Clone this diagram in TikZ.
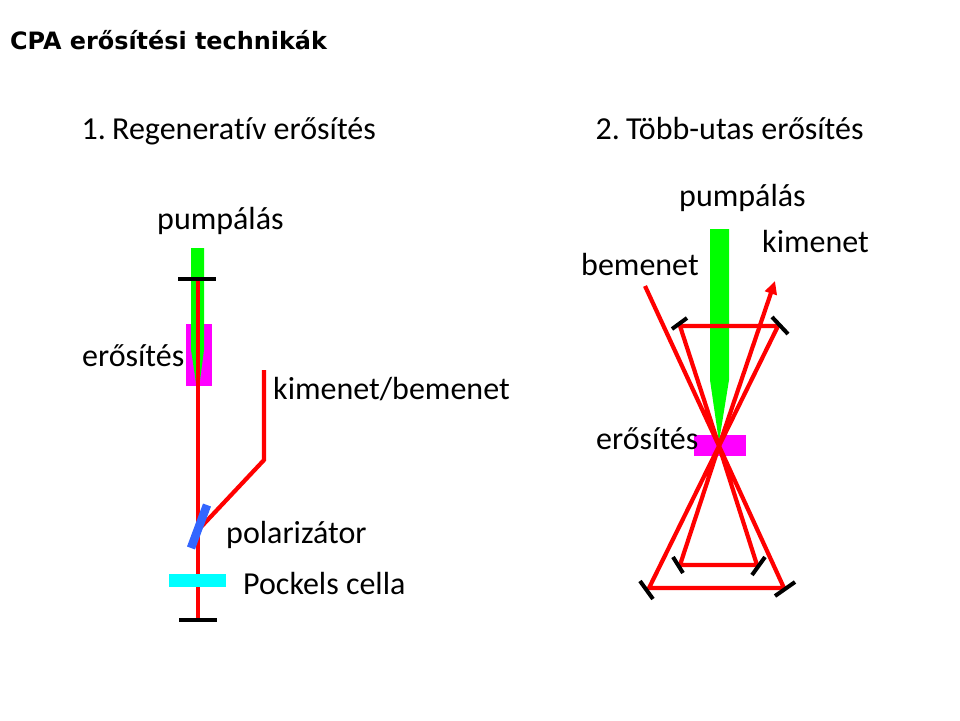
\documentclass[tikz,border=0pt]{standalone}
\usepackage{fontspec}
\setmainfont[Ligatures=NoCommon,RawFeature={-liga;-clig;-dlig}]{Carlito}
\newfontfamily\titlefont{DejaVu Sans}
\usetikzlibrary{arrows.meta}
\definecolor{puregain}{RGB}{255,0,255}
\definecolor{purecell}{RGB}{0,255,255}
\definecolor{purepump}{RGB}{0,255,0}
\definecolor{purebeam}{RGB}{255,0,0}
\definecolor{polblue}{RGB}{51,102,255}
\tikzset{
  lbl/.style={anchor=base west,inner sep=0pt,font=\fontsize{32}{36}\selectfont},
  ttl/.style={anchor=base west,inner sep=0pt,font=\titlefont\bfseries\fontsize{23.9}{28}\selectfont},
  beam/.style={draw=purebeam,line width=4.2pt,line join=miter},
  thin beam/.style={draw=purebeam,line width=4.2pt,line join=round},
  mirror/.style={draw=black,line width=4pt},
  pump/.style={fill=purepump,draw=none},
  gain/.style={fill=puregain,draw=none},
}
\begin{document}
\begin{tikzpicture}[x=1pt,y=-1pt]
\useasboundingbox (0,0) rectangle (960,720);
% coordinates, left
\coordinate (LT) at (198,281);
\coordinate (LB) at (198,620);
\coordinate (OA) at (264,370);
\coordinate (OB) at (264,460);
\coordinate (OC) at (201,527);
\coordinate (M1a) at (178,279);
\coordinate (M1b) at (216,279);
\coordinate (M2a) at (179,620);
\coordinate (M2b) at (217,620);
\coordinate (Pa) at (207,505);
\coordinate (Pb) at (191,548);
% left gain & pump
\fill[gain] (186,324) rectangle (212,386);
\fill[pump] (191,248) -- (204,248) -- (204,350) -- (198,396) -- (191,350) -- cycle;
\draw[beam] (LT) -- (LB);
\draw[beam] (OA) -- (OB) -- (OC);
\draw[mirror] (M1a) -- (M1b);
\draw[mirror] (M2a) -- (M2b);
\draw[draw=polblue,line width=8.5pt] (Pa) -- (Pb);
\fill[purecell] (169,574) rectangle (226,587);
% right
\coordinate (X) at (719,446);
\coordinate (In) at (645,286);
\coordinate (TL) at (680,326);
\coordinate (TR) at (778,326);
\coordinate (BL) at (649,588);
\coordinate (BR) at (784,588);
\coordinate (IL) at (680,565);
\coordinate (IR) at (757,565);
\coordinate (Out) at (775,281);
\fill[gain] (694,435) rectangle (746,456);
\fill[pump] (710,229) -- (729,229) -- (729,380) -- (719,442) -- (710,380) -- cycle;
\draw[thin beam] (In) -- (X) -- (BR) -- (BL) -- (X) -- (TR) -- (TL) -- (X) -- (IR) -- (IL) -- (X);
\draw[thin beam,-{Triangle[length=13pt,width=12pt]}] (X) -- (Out);
\draw[mirror] (672,329) -- (687,318);
\draw[mirror] (772,317) -- (788,334);
\draw[mirror] (673,557) -- (683,573);
\draw[mirror] (765,557) -- (752,575);
\draw[mirror] (640,581) -- (653,599);
\draw[mirror] (775,596) -- (795,582);
% text
\node[ttl] (title) at (10,49) {CPA erősítési technikák};
\node[lbl] (h1) at (81.5,139) {1.\kern-1pt\ Regeneratív erősítés};
\node[lbl] (h2) at (595.5,139) {2.\kern-1pt\ Több-utas erősítés};
\node[lbl] (p1) at (157,229) {pumpálás};
\node[lbl] (g1) at (82,366) {erősítés};
\node[lbl] (o1) at (273,399) {kimenet/bemenet};
\node[lbl] (pol) at (226,543) {polarizátor};
\node[lbl] (pc) at (243,594) {Pockels cella};
\node[lbl] (p2) at (679,206) {pumpálás};
\node[lbl] (k2) at (762,252) {kimenet};
\node[lbl] (b2) at (581,275) {bemenet};
\node[lbl] (g2) at (596,449) {erősítés};
\end{tikzpicture}
\end{document}
